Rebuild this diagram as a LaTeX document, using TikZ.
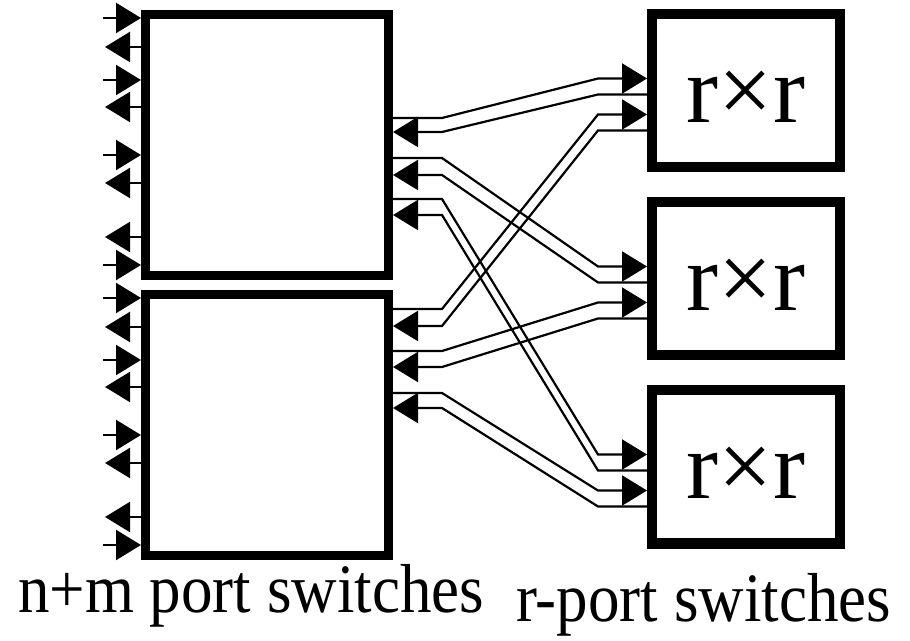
\documentclass[tikz,border=0pt]{standalone}
\usepackage{fontspec}
\setmainfont{Liberation Serif}
\usetikzlibrary{arrows.meta}
\begin{document}
\begin{tikzpicture}[x=1pt,y=1pt,
  lbox/.style={draw, line width=9pt, minimum width=243pt, minimum height=261pt, inner sep=0pt},
  rbox/.style={draw, line width=10pt, minimum width=188pt, minimum height=153pt, inner sep=0pt},
  link/.style={line width=2.2pt},
  arrowed/.style={-{Triangle[length=25pt,width=30pt]}},
  rrtext/.style={font=\fontsize{96}{100}\selectfont, anchor=base, inner sep=0pt},
  captext/.style={font=\fontsize{63}{70}\selectfont, anchor=base west, inner sep=0pt, yscale=1.1}]
\useasboundingbox (0,0) rectangle (910,640);
\node[lbox] (L1) at (267,495) {};
\node[lbox] (L2) at (267,215) {};
\node[rbox] (R1) at (746,549) {};
\node[rbox] (R2) at (746,361) {};
\node[rbox] (R3) at (746,173) {};
\node[rrtext] (T1) at (746,517) {r×r};
\node[rrtext] (T2) at (746,329) {r×r};
\node[rrtext] (T3) at (746,141) {r×r};
\node[captext] (C1) at (18,28) {n+m port switches};
\node[captext] (C2) at (516,19) {r-port switches};
\foreach \b in {L1,L2}{
  \foreach \y in {8,70,145,255}
    \draw[link,arrowed] ([xshift=-38pt,yshift=-\y pt]\b.north west) -- ([yshift=-\y pt]\b.north west);
  \foreach \y in {37,97,173,227}
    \draw[link,arrowed] ([yshift=-\y pt]\b.north west) -- ++(-36,0);
}
\foreach \l/\lf/\lb/\r/\rf/\rb in {L1/108/122/R1/69/85, L1/148/165/R2/69/85, L1/189/205/R3/69/85, L2/19/36/R1/105/121, L2/61/77/R2/105/121, L2/103/118/R3/105/121}{
  \draw[link,arrowed] ([yshift=-\lf pt]\l.north east) -- ++(49,0) -- ([xshift=-49pt,yshift=-\rf pt]\r.north west) -- ([yshift=-\rf pt]\r.north west);
  \draw[link,arrowed] ([yshift=-\rb pt]\r.north west) -- ++(-49,0) -- ([xshift=49pt,yshift=-\lb pt]\l.north east) -- ([yshift=-\lb pt]\l.north east);
}
\end{tikzpicture}
\end{document}
